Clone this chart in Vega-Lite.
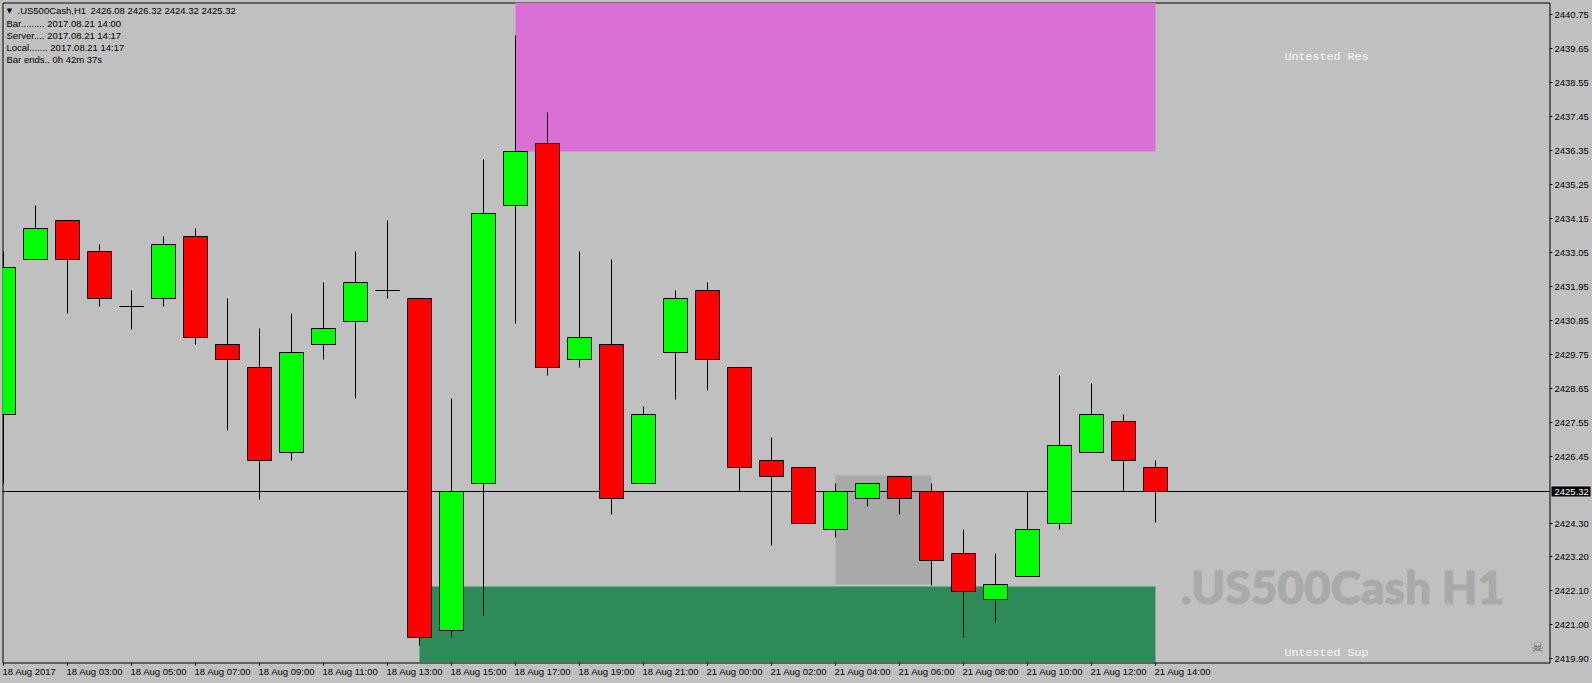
{"$schema":"https://vega.github.io/schema/vega-lite/v6.json","width":1547,"height":660,"autosize":{"type":"none"},"padding":{"left":2.5,"top":2.5,"right":42,"bottom":20},"background":"#c0c0c0","config":{"view":{"stroke":"#000000","strokeWidth":1,"fill":"#c0c0c0"}},
"datasets":{"candles":[
{"bar":0,"time":"18 Aug 00:00","open":2427.81,"high":2433.10,"low":2425.57,"close":2432.57},
{"bar":1,"time":"18 Aug 02:00","open":2432.83,"high":2434.59,"low":2432.83,"close":2433.84},
{"bar":2,"time":"18 Aug 03:00","open":2434.09,"high":2434.09,"low":2431.07,"close":2432.83},
{"bar":3,"time":"18 Aug 04:00","open":2433.09,"high":2433.33,"low":2431.30,"close":2431.57},
{"bar":4,"time":"18 Aug 05:00","open":2431.31,"high":2431.84,"low":2430.58,"close":2431.31},
{"bar":5,"time":"18 Aug 06:00","open":2431.57,"high":2433.59,"low":2431.30,"close":2433.32},
{"bar":6,"time":"18 Aug 07:00","open":2433.58,"high":2433.85,"low":2430.07,"close":2430.31},
{"bar":7,"time":"18 Aug 08:00","open":2430.08,"high":2431.58,"low":2427.31,"close":2429.59},
{"bar":8,"time":"18 Aug 09:00","open":2429.34,"high":2430.61,"low":2425.07,"close":2426.32},
{"bar":9,"time":"18 Aug 10:00","open":2426.58,"high":2431.09,"low":2426.31,"close":2429.82},
{"bar":10,"time":"18 Aug 11:00","open":2430.08,"high":2432.10,"low":2429.58,"close":2430.60},
{"bar":11,"time":"18 Aug 12:00","open":2430.82,"high":2433.10,"low":2428.32,"close":2432.09},
{"bar":12,"time":"18 Aug 13:00","open":2431.83,"high":2434.10,"low":2431.56,"close":2431.83},
{"bar":13,"time":"18 Aug 14:00","open":2431.57,"high":2431.57,"low":2420.32,"close":2420.59},
{"bar":14,"time":"18 Aug 15:00","open":2420.82,"high":2428.34,"low":2420.58,"close":2425.32},
{"bar":15,"time":"18 Aug 16:00","open":2425.57,"high":2436.08,"low":2421.29,"close":2434.32},
{"bar":16,"time":"18 Aug 17:00","open":2434.58,"high":2440.09,"low":2430.77,"close":2436.33},
{"bar":17,"time":"18 Aug 18:00","open":2436.59,"high":2437.60,"low":2429.06,"close":2429.32},
{"bar":18,"time":"18 Aug 19:00","open":2429.58,"high":2433.10,"low":2429.32,"close":2430.32},
{"bar":19,"time":"18 Aug 20:00","open":2430.08,"high":2432.84,"low":2424.56,"close":2425.09},
{"bar":20,"time":"18 Aug 21:00","open":2425.57,"high":2428.08,"low":2425.57,"close":2427.81},
{"bar":21,"time":"18 Aug 22:00","open":2429.81,"high":2431.84,"low":2428.31,"close":2431.57},
{"bar":22,"time":"21 Aug 00:00","open":2431.83,"high":2432.10,"low":2428.58,"close":2429.58},
{"bar":23,"time":"21 Aug 01:00","open":2429.34,"high":2429.34,"low":2425.32,"close":2426.10},
{"bar":24,"time":"21 Aug 02:00","open":2426.32,"high":2427.08,"low":2423.56,"close":2425.81},
{"bar":25,"time":"21 Aug 03:00","open":2426.10,"high":2426.10,"low":2424.30,"close":2424.30},
{"bar":26,"time":"21 Aug 04:00","open":2424.09,"high":2425.58,"low":2423.82,"close":2425.32},
{"bar":27,"time":"21 Aug 05:00","open":2425.09,"high":2425.58,"low":2424.82,"close":2425.58},
{"bar":28,"time":"21 Aug 06:00","open":2425.81,"high":2425.81,"low":2424.56,"close":2425.09},
{"bar":29,"time":"21 Aug 07:00","open":2425.32,"high":2425.58,"low":2422.29,"close":2423.09},
{"bar":30,"time":"21 Aug 08:00","open":2423.31,"high":2424.10,"low":2420.58,"close":2422.08},
{"bar":31,"time":"21 Aug 09:00","open":2421.82,"high":2423.32,"low":2421.07,"close":2422.31},
{"bar":32,"time":"21 Aug 10:00","open":2422.57,"high":2425.32,"low":2422.57,"close":2424.09},
{"bar":33,"time":"21 Aug 11:00","open":2424.30,"high":2429.09,"low":2424.08,"close":2426.81},
{"bar":34,"time":"21 Aug 12:00","open":2426.58,"high":2428.83,"low":2426.58,"close":2427.81},
{"bar":35,"time":"21 Aug 13:00","open":2427.59,"high":2427.82,"low":2425.32,"close":2426.32},
{"bar":36,"time":"21 Aug 14:00","open":2426.10,"high":2426.32,"low":2424.32,"close":2425.32}
],
"zones":[
{"zone":"Untested Res","from":16,"to":36,"lo":2436.34,"hi":2441.15},
{"zone":"Untested Sup","from":13,"to":36,"lo":2419.784,"hi":2422.25},
{"zone":"Range","from":26,"to":29,"lo":2422.32,"hi":2425.85}
]},
"layer":[
{"data":{"name":"zones"},"mark":{"type":"rect","clip":true},"encoding":{
"x":{"field":"from","type":"quantitative","title":null,"scale":{"domain":[-0.03125,48.3125],"nice":false,"zero":false,"round":true,"padding":0},
"axis":{"translate":0,"tickCount":60,"values":[0,2,4,6,8,10,12,14,16,18,20,22,24,26,28,30,32,34,36],"labelExpr":"['18 Aug 2017','18 Aug 03:00','18 Aug 05:00','18 Aug 07:00','18 Aug 09:00','18 Aug 11:00','18 Aug 13:00','18 Aug 15:00','18 Aug 17:00','18 Aug 19:00','18 Aug 21:00','21 Aug 00:00','21 Aug 02:00','21 Aug 04:00','21 Aug 06:00','21 Aug 08:00','21 Aug 10:00','21 Aug 12:00','21 Aug 14:00'][datum.value/2]","labelAlign":"left","labelBaseline":"middle","labelPadding":6,"labelFont":"Liberation Sans","labelFontSize":9.5,"labelColor":"#000000","labelOverlap":false,"labelBound":false,"labelFlush":false,"tickColor":"#000000","tickSize":3,"tickWidth":1,"domain":false,"grid":false,"labelOffset":-1}},
"x2":{"field":"to"},
"y":{"field":"lo","type":"quantitative","title":null,"scale":{"domain":[2419.784,2441.152],"nice":false,"zero":false,"round":true},
"axis":{"translate":0,"tickCount":60,"orient":"right","values":[2440.75,2439.65,2438.55,2437.45,2436.35,2435.25,2434.15,2433.05,2431.95,2430.85,2429.75,2428.65,2427.55,2426.45,2424.30,2423.20,2422.10,2421.00,2419.90],"format":".2f","labelFont":"Liberation Sans","labelFontSize":9.5,"labelColor":"#000000","labelPadding":2,"labelOverlap":false,"labelBound":false,"labelFlush":false,"tickColor":"#000000","tickSize":3,"tickWidth":1,"domain":false,"grid":false}},
"y2":{"field":"hi"},
"color":{"field":"zone","type":"nominal","legend":null,"scale":{"domain":["Untested Res","Untested Sup","Range"],"range":["#da70d6","#2e8b57","#a9a9a9"]}}}},
{"data":{"values":[{"price":2425.32}]},"mark":{"type":"rule","color":"#000000","strokeWidth":1},"encoding":{"y":{"field":"price","type":"quantitative","scale":{"domain":[2419.784,2441.152],"nice":false,"zero":false,"round":true}}}},
{"data":{"name":"candles"},"mark":{"type":"rule","color":"#000000","strokeWidth":1},"encoding":{
"x":{"field":"bar","type":"quantitative","scale":{"domain":[-0.03125,48.3125],"nice":false,"zero":false,"round":true,"padding":0}},
"y":{"field":"low","type":"quantitative","scale":{"domain":[2419.784,2441.152],"nice":false,"zero":false,"round":true}},
"y2":{"field":"high"}}},
{"data":{"name":"candles"},"mark":{"type":"bar","width":24,"orient":"vertical","clip":true,"stroke":"#000000","strokeWidth":1},"encoding":{
"x":{"field":"bar","type":"quantitative","scale":{"domain":[-0.03125,48.3125],"nice":false,"zero":false,"round":true,"padding":0}},
"y":{"field":"open","type":"quantitative","scale":{"domain":[2419.784,2441.152],"nice":false,"zero":false,"round":true}},
"y2":{"field":"close"},
"fill":{"condition":{"test":"datum.close>=datum.open","value":"#00ff00"},"value":"#ff0000"}}},
{"data":{"values":[{"label":".US500Cash,H1","bar":0.453,"price":2440.887},{"label":"2426.08 2426.32 2424.32 2425.32","bar":2.72,"price":2440.887},{"label":"Bar......... 2017.08.21 14:00","bar":0.109,"price":2440.48},{"label":"Server.... 2017.08.21 14:17","bar":0.109,"price":2440.08},{"label":"Local....... 2017.08.21 14:17","bar":0.109,"price":2439.70},{"label":"Bar ends.. 0h 42m 37s","bar":0.109,"price":2439.31}]},"mark":{"type":"text","align":"left","baseline":"middle","font":"Liberation Sans","fontSize":9.5,"color":"#000000"},"encoding":{
"x":{"field":"bar","type":"quantitative","scale":{"domain":[-0.03125,48.3125],"nice":false,"zero":false,"round":true,"padding":0}},
"y":{"field":"price","type":"quantitative","scale":{"domain":[2419.784,2441.152],"nice":false,"zero":false,"round":true}},
"text":{"field":"label"}}},
{"data":{"values":[{"label":"▼","bar":0.2,"price":2440.887}]},"mark":{"type":"text","align":"center","baseline":"middle","font":"DejaVu Sans","fontSize":7,"color":"#000000"},"encoding":{
"x":{"field":"bar","type":"quantitative","scale":{"domain":[-0.03125,48.3125],"nice":false,"zero":false,"round":true,"padding":0}},
"y":{"field":"price","type":"quantitative","scale":{"domain":[2419.784,2441.152],"nice":false,"zero":false,"round":true}},
"text":{"field":"label"}}},
{"data":{"values":[{"label":"Untested Res","bar":41.34,"price":2439.42},{"label":"Untested Sup","bar":41.34,"price":2420.13}]},"mark":{"type":"text","align":"center","baseline":"middle","font":"Liberation Mono","fontSize":11.67,"color":"#f8f8f8"},"encoding":{
"x":{"field":"bar","type":"quantitative","scale":{"domain":[-0.03125,48.3125],"nice":false,"zero":false,"round":true,"padding":0}},
"y":{"field":"price","type":"quantitative","scale":{"domain":[2419.784,2441.152],"nice":false,"zero":false,"round":true}},
"text":{"field":"label"}}},
{"data":{"values":[{"label":".US500Cash H1","bar":41.83,"price":2422.15}]},"mark":{"type":"text","align":"center","baseline":"middle","font":"Lato","fontWeight":900,"fontSize":46,"color":"#a9a9a9","stroke":"#a9a9a9","strokeWidth":1},"encoding":{
"x":{"field":"bar","type":"quantitative","scale":{"domain":[-0.03125,48.3125],"nice":false,"zero":false,"round":true,"padding":0}},
"y":{"field":"price","type":"quantitative","scale":{"domain":[2419.784,2441.152],"nice":false,"zero":false,"round":true}},
"text":{"field":"label"}}},
{"data":{"values":[{"label":"☠","bar":47.95,"price":2420.28}]},"mark":{"type":"text","align":"center","baseline":"middle","font":"DejaVu Sans","fontSize":14,"color":"#606060"},"encoding":{
"x":{"field":"bar","type":"quantitative","scale":{"domain":[-0.03125,48.3125],"nice":false,"zero":false,"round":true,"padding":0}},
"y":{"field":"price","type":"quantitative","scale":{"domain":[2419.784,2441.152],"nice":false,"zero":false,"round":true}},
"text":{"field":"label"}}},
{"data":{"values":[{"from":48.375,"to":49.6,"lo":2425.16,"hi":2425.49}]},"mark":{"type":"rect","color":"#000000","clip":false},"encoding":{
"x":{"field":"from","type":"quantitative","scale":{"domain":[-0.03125,48.3125],"nice":false,"zero":false,"round":true,"padding":0}},"x2":{"field":"to"},
"y":{"field":"lo","type":"quantitative","scale":{"domain":[2419.784,2441.152],"nice":false,"zero":false,"round":true}},"y2":{"field":"hi"}}},
{"data":{"values":[{"label":"2425.32","bar":48.48,"price":2425.32}]},"mark":{"type":"text","align":"left","baseline":"middle","font":"Liberation Sans","fontSize":9.5,"color":"#ffffff"},"encoding":{
"x":{"field":"bar","type":"quantitative","scale":{"domain":[-0.03125,48.3125],"nice":false,"zero":false,"round":true,"padding":0}},
"y":{"field":"price","type":"quantitative","scale":{"domain":[2419.784,2441.152],"nice":false,"zero":false,"round":true}},
"text":{"field":"label"}}}
]}
